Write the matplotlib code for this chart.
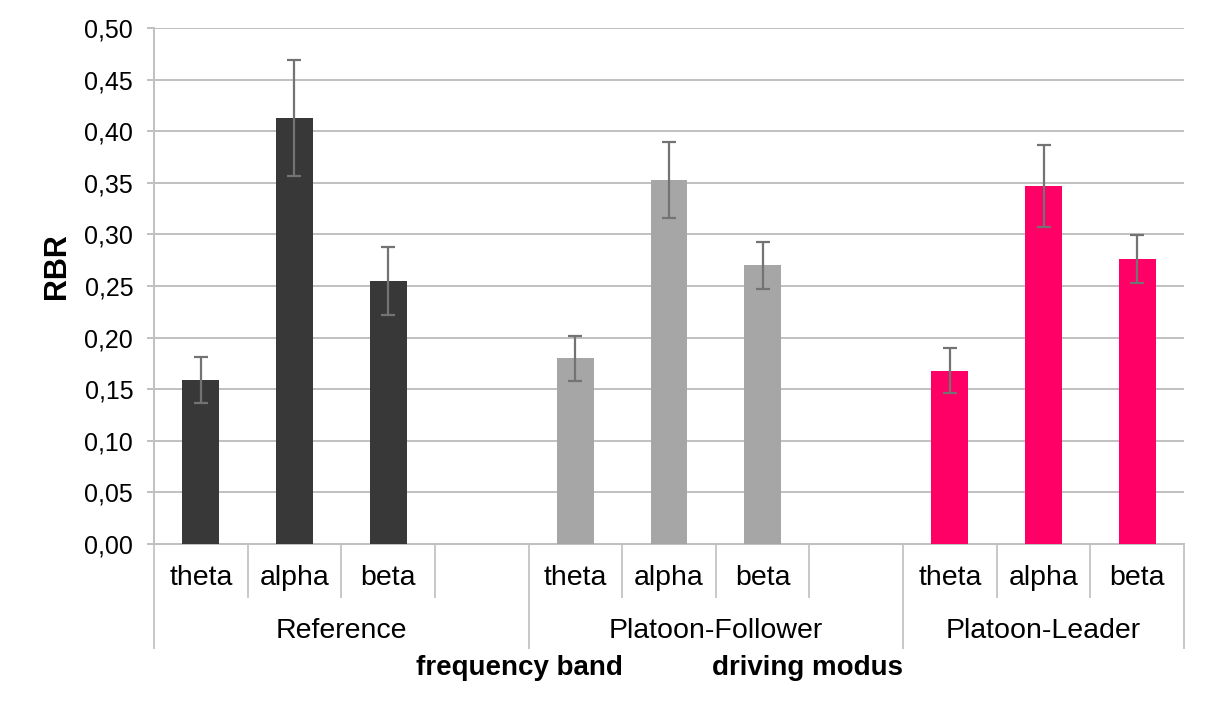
import matplotlib
matplotlib.use("Agg")
import matplotlib.pyplot as plt
import matplotlib.transforms as mtransforms
from matplotlib.ticker import FuncFormatter, MultipleLocator

# ---- data ----
groups = ["Reference", "Platoon-Follower", "Platoon-Leader"]
bands = ["theta", "alpha", "beta"]
ref_vals = [0.159, 0.413, 0.255]
ref_err = [0.022, 0.056, 0.033]
fol_vals = [0.180, 0.353, 0.270]
fol_err = [0.022, 0.037, 0.023]
lead_vals = [0.168, 0.347, 0.276]
lead_err = [0.022, 0.040, 0.023]
group_colors = ["#383838", "#A6A6A6", "#FF0066"]
y_label = "RBR"
x_title_left = "frequency band"
x_title_right = "driving modus"

plt.rcParams['font.family'] = ['Liberation Sans', 'DejaVu Sans']

fig = plt.figure(figsize=(12.05, 7.08), dpi=100)
ax = fig.add_axes([154/1205, 1-544/708, (1184-154)/1205, (544-28)/708])

all_vals = [ref_vals, fol_vals, lead_vals]
all_errs = [ref_err, fol_err, lead_err]

# slots: 3 bands + 1 blank per group except last
slot_labels = []
for gi, g in enumerate(groups):
    for b in bands:
        slot_labels.append(b)
    if gi < len(groups) - 1:
        slot_labels.append("")
n_slots = len(slot_labels)

pos = 0
group_ranges = []
for gi, g in enumerate(groups):
    start = pos
    xs = [pos + i for i in range(len(bands))]
    ax.bar(xs, all_vals[gi], width=0.395, color=group_colors[gi], zorder=3)
    ax.errorbar(xs, all_vals[gi], yerr=all_errs[gi], fmt='none', ecolor='#737373',
                elinewidth=1.6, capsize=5, capthick=1.6, zorder=4)
    pos += len(bands) + (1 if gi < len(groups) - 1 else 0)
    group_ranges.append((start - 0.5, pos - 0.5))

ax.set_xlim(-0.5, n_slots - 0.5)
ax.set_ylim(0, 0.5)
ax.yaxis.set_major_locator(MultipleLocator(0.05))
ax.yaxis.set_major_formatter(FuncFormatter(lambda v, p: f"{v:.2f}".replace('.', ',')))
ax.grid(axis='y', color='#C0C0C0', linewidth=1.4, zorder=0)
ax.set_axisbelow(True)
for s in ['top', 'right']:
    ax.spines[s].set_visible(False)
for s in ['left', 'bottom']:
    ax.spines[s].set_color('#C0C0C0')
    ax.spines[s].set_linewidth(1.4)
ax.tick_params(axis='y', colors='#C0C0C0', length=5, width=1.4, pad=10,
               labelsize=18, labelcolor='black')
ax.set_xticks([])

fig.text(57/1205, 1-266/708, y_label, rotation=90, ha='center', va='center',
         fontsize=22, fontweight='bold')

trans = mtransforms.blended_transform_factory(ax.transData, ax.transAxes)
line_kw = dict(color='#C8C8C8', linewidth=1.4, clip_on=False, transform=trans)
# inner labels and separators
for i, lab in enumerate(slot_labels):
    if lab:
        ax.text(i, -0.066, lab, ha='center', va='center', fontsize=20.5,
                transform=trans, clip_on=False)
for i in range(1, n_slots):
    b = i - 0.5
    is_group_edge = any(abs(b - r[0]) < 1e-9 for r in group_ranges)
    if not is_group_edge:
        ax.plot([b, b], [0, -0.103], **line_kw)
# group edges (long)
edges = sorted(set([r[0] for r in group_ranges] + [r[1] for r in group_ranges]))
for b in edges:
    ax.plot([b, b], [0, -0.202], **line_kw)
for gi, (a, b) in enumerate(group_ranges):
    ax.text((a + b) / 2, -0.169, groups[gi], ha='center', va='center', fontsize=20.5,
            transform=trans, clip_on=False)

fig.text(519/1205, 1-668/708, x_title_left, ha='center', va='center',
         fontsize=20, fontweight='bold')
fig.text(808/1205, 1-668/708, x_title_right, ha='center', va='center',
         fontsize=20, fontweight='bold')

fig.savefig("out.png", dpi=100)
